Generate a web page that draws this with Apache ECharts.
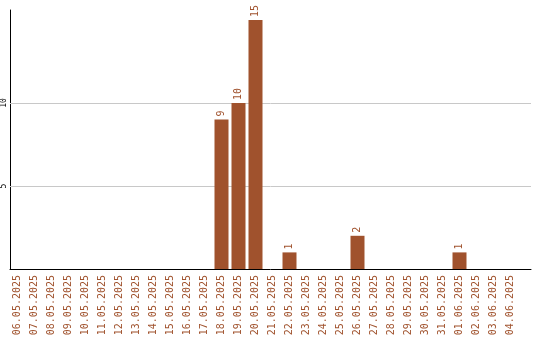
<!DOCTYPE html>
<html><head><meta charset="utf-8">
<script src="https://cdn.jsdelivr.net/npm/echarts@6/dist/echarts.min.js"></script>
<style>html,body{margin:0;padding:0;background:#fff}#c{width:540px;height:340px}</style>
</head><body><div id="c"></div>
<script>
const categories = ["06.05.2025","07.05.2025","08.05.2025","09.05.2025","10.05.2025","11.05.2025","12.05.2025","13.05.2025","14.05.2025","15.05.2025","16.05.2025","17.05.2025","18.05.2025","19.05.2025","20.05.2025","21.05.2025","22.05.2025","23.05.2025","24.05.2025","25.05.2025","26.05.2025","27.05.2025","28.05.2025","29.05.2025","30.05.2025","31.05.2025","01.06.2025","02.06.2025","03.06.2025","04.06.2025"];
const values = [0,0,0,0,0,0,0,0,0,0,0,0,9,10,15,0,1,0,0,0,2,0,0,0,0,0,1,0,0,0];
const yTicks = [5, 10];
const yMax = 15.6;

const chart = echarts.init(document.getElementById('c'), null, {renderer:'canvas'});
chart.setOption({
  animation: false,
  grid: [
    {left: 9, top: 10, width: 510, bottom: 71},
    {left: 10, top: 10, width: 521, bottom: 71}
  ],
  xAxis: [{
    gridIndex: 0, type: 'category', data: categories,
    axisLine: {show: false},
    axisTick: {show: false},
    axisLabel: {rotate: 90, interval: 0, color: '#a0522d', fontFamily: 'DejaVu Sans Mono', fontSize: 10, margin: 6}
  }, {
    gridIndex: 1, type: 'value', min: 0, max: 1,
    axisLine: {show: true, lineStyle: {color: '#000', width: 1}},
    axisTick: {show: false}, axisLabel: {show: false}, splitLine: {show: false}
  }],
  yAxis: [{
    gridIndex: 0, type: 'value', min: 0, max: yMax, show: false
  }, {
    gridIndex: 1, type: 'value', min: 0, max: yMax, interval: 5,
    axisLine: {show: true, lineStyle: {color: '#000', width: 1}},
    axisTick: {show: false},
    splitLine: {show: false},
    axisLabel: {rotate: 90, color: '#000', fontFamily: 'DejaVu Sans Mono', fontSize: 8, margin: 2,
      formatter: v => yTicks.includes(v) ? String(v) : ''}
  }],
  series: [{
    type: 'line', xAxisIndex: 1, yAxisIndex: 1, data: [], z: 1, silent: true,
    markLine: {silent: true, symbol: 'none', label: {show: false}, z: 1,
      lineStyle: {color: '#c8c8c8', type: 'solid', width: 1},
      data: yTicks.map(t => ({yAxis: t}))}
  }, {
    type: 'bar', xAxisIndex: 0, yAxisIndex: 0, data: values.map(v => v === 0 ? null : v), barWidth: 14,
    itemStyle: {color: '#a0522d'},
    label: {show: true, position: 'top', rotate: 90, align: 'left', verticalAlign: 'middle', distance: 3,
      color: '#a0522d', fontFamily: 'DejaVu Sans Mono', fontSize: 10},
    z: 3
  }]
});
</script></body></html>
